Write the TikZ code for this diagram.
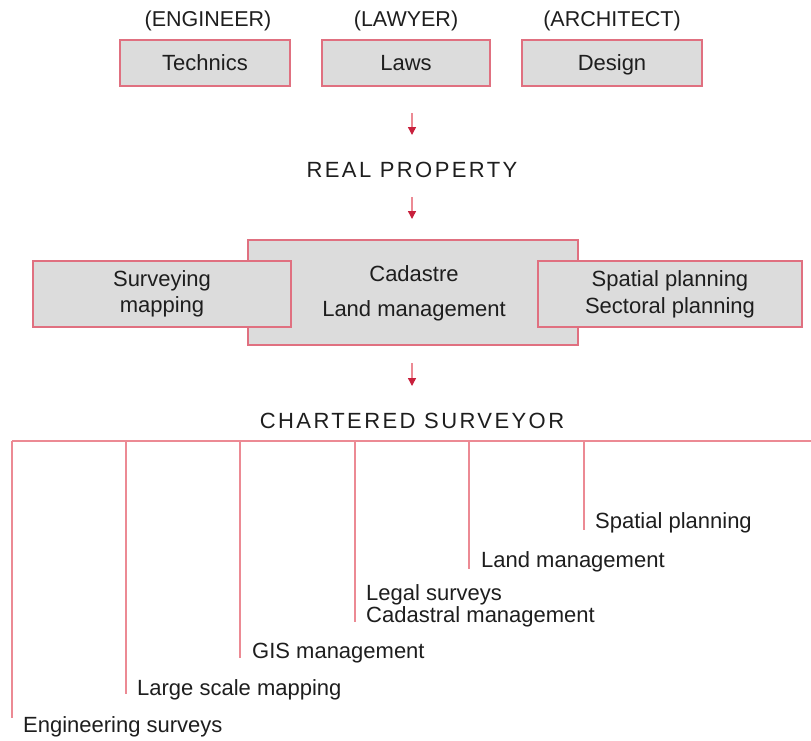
\documentclass[tikz,border=0pt]{standalone}
\usepackage{fontspec}
\setmainfont{Liberation Sans}
\usetikzlibrary{arrows.meta}
\definecolor{boxfill}{HTML}{DCDCDC}
\definecolor{boxline}{HTML}{E07080}
\definecolor{linec}{HTML}{EC8A94}
\definecolor{arrc}{HTML}{C8203C}
\definecolor{txt}{HTML}{1E1E1E}
\tikzset{
  box/.style={draw=boxline, fill=boxfill, line width=1.8pt, inner sep=0pt, text=txt,
    font=\fontsize{22}{27}\selectfont, align=center},
  topbox/.style={box, minimum height=46pt, text height=17pt, text depth=2pt},
  role/.style={text=txt, font=\fontsize{21.5}{25}\selectfont},
  title/.style={text=txt, font=\fontsize{22}{25}\selectfont\addfontfeature{LetterSpace=11}},
  lab/.style={text=txt, font=\fontsize{22}{18.5}\selectfont, anchor=west, align=left, inner sep=0pt},
  arr/.style={draw=linec, line width=1.4pt, -{Triangle[length=8pt,width=8pt,fill=arrc,color=arrc]}},
  bar/.style={draw=linec, line width=1.6pt}
}
\begin{document}
\begin{tikzpicture}[x=1pt,y=-1pt]
\useasboundingbox (0,0) rectangle (811,740);
% top row
\node[topbox, minimum width=170pt] (tech) at (205,63) {Technics};
\node[topbox, minimum width=168pt] (laws) at (406,63) {Laws};
\node[topbox, minimum width=180pt] (design) at (612,63) {Design};
\node[role] (eng) at (208,21) {(ENGINEER)};
\node[role] (law) at (406,21) {(LAWYER)};
\node[role] (arch) at (612,21) {(ARCHITECT)};
% arrow 1
\coordinate (a1s) at (412,113);
\coordinate (a1e) at (412,135);
\draw[arr] (a1s) -- (a1e);
\node[title] (rp) at (412,170) {REAL PROPERTY};
\coordinate (a2s) at (412,197);
\coordinate (a2e) at (412,219);
\draw[arr] (a2s) -- (a2e);
% middle boxes
\node[box, minimum width=330pt, minimum height=105pt] (cad) at (413,292.5) {};
\node[text=txt, font=\fontsize{22}{35}\selectfont, align=center] (cadt) at (414,293) {Cadastre\\Land management};
\node[box, minimum width=258pt, minimum height=66pt, font=\fontsize{22}{26}\selectfont] (surv) at (162,294) {Surveying\\mapping};
\node[box, minimum width=264pt, minimum height=66pt, font=\fontsize{22}{27}\selectfont] (spat) at (670,294) {Spatial planning\\Sectoral planning};
% arrow 3
\coordinate (a3s) at (412,363);
\coordinate (a3e) at (412,386);
\draw[arr] (a3s) -- (a3e);
\node[title] (cs) at (412,421) {CHARTERED SURVEYOR};
% bar
\coordinate (bl) at (12,441);
\coordinate (br) at (811,441);
\draw[bar] (bl) -- (br);
% branches
\coordinate (b1) at (12,441);
\coordinate (b2) at (126,441);
\coordinate (b3) at (240,441);
\coordinate (b4) at (355,441);
\coordinate (b5) at (469,441);
\coordinate (b6) at (584,441);
\coordinate (e1) at (12,718);
\coordinate (e2) at (126,694);
\coordinate (e3) at (240,658);
\coordinate (e4) at (355,622);
\coordinate (e5) at (469,569);
\coordinate (e6) at (584,530);
\foreach \i in {1,...,6} \draw[bar] (b\i) -- (e\i);
\node[lab] (l1) at (23,727) {Engineering surveys};
\node[lab] (l2) at (137,690) {Large scale mapping};
\node[lab] (l3) at (252,653) {GIS management};
\node[lab] (l4) at (366,606) {Legal surveys\\Cadastral management};
\node[lab] (l5) at (481,562) {Land management};
\node[lab] (l6) at (595,523) {Spatial planning};
\end{tikzpicture}
\end{document}
